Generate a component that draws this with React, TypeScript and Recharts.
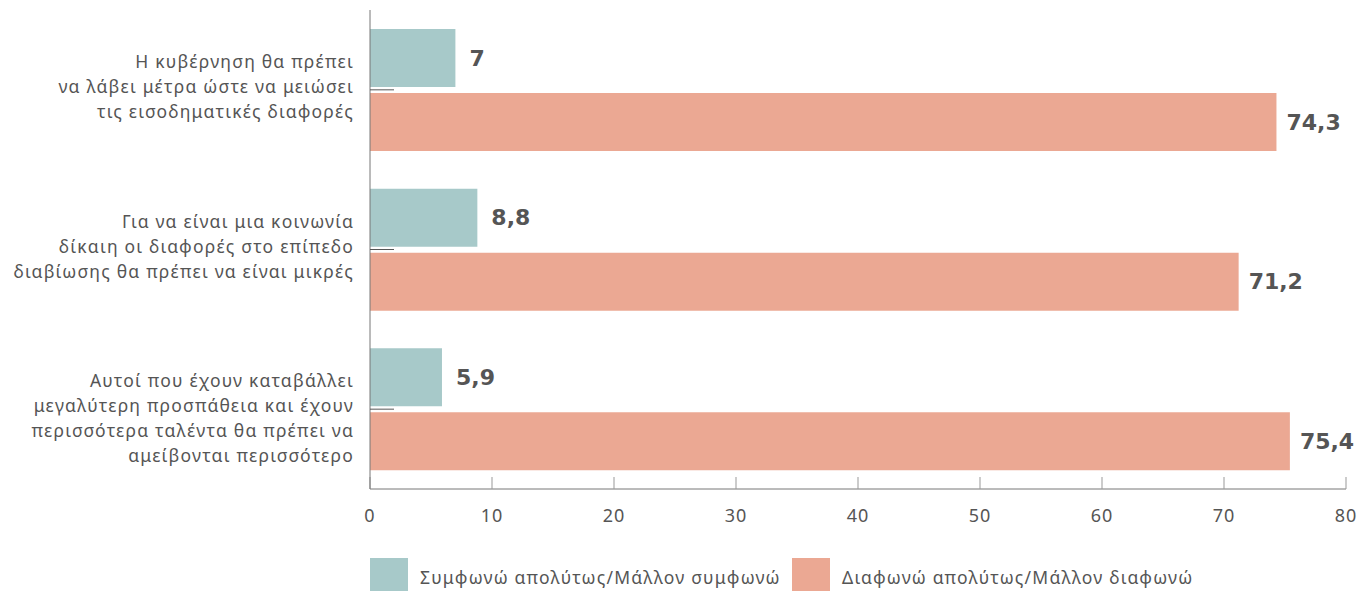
import { BarChart, Bar, XAxis, YAxis, LabelList } from "recharts";

const categories = [
  "Η κυβέρνηση θα πρέπει|να λάβει μέτρα ώστε να μειώσει|τις εισοδηματικές διαφορές",
  "Για να είναι μια κοινωνία|δίκαιη οι διαφορές στο επίπεδο|διαβίωσης θα πρέπει να είναι μικρές",
  "Αυτοί που έχουν καταβάλλει|μεγαλύτερη προσπάθεια και έχουν|περισσότερα ταλέντα θα πρέπει να|αμείβονται περισσότερο",
];
const agree = [7, 8.8, 5.9];
const disagree = [74.3, 71.2, 75.4];
const xTicks = [0, 10, 20, 30, 40, 50, 60, 70, 80];

const seriesNames = ["Συμφωνώ απολύτως/Μάλλον συμφωνώ", "Διαφωνώ απολύτως/Μάλλον διαφωνώ"];
const colors = ["#a7c9c9", "#eba893"];

const data = categories.map((c, i) => ({ name: c, agree: agree[i], disagree: disagree[i] }));

const FONT = "'Noto Sans', sans-serif";
const BOLD_FONT = "'DejaVu Sans', sans-serif";
const TEXT = "#555555";

function CategoryTick(props: any) {
  const { x, y, payload } = props;
  const lines = String(payload.value).split("|");
  return (
    <text
      x={x}
      y={y - 28}
      textAnchor="end"
      fill={TEXT}
      fontSize={17.5}
      letterSpacing={1.2}
      fontFamily={FONT}
    >
      {lines.map((l, i) => (
        <tspan key={i} x={x} dy={i === 0 ? "0.35em" : 25}>
          {l}
        </tspan>
      ))}
    </text>
  );
}

const fmt = (v: any) => String(v).replace(".", ",");

export default function App() {
  return (
    <div style={{ position: "absolute", left: 0, top: 0, width: 1360, height: 591, background: "#fff" }}>
      <BarChart
        width={1360}
        height={591}
        data={data}
        layout="vertical"
        margin={{ top: 10, right: 14, left: 0, bottom: 72 }}
        barCategoryGap={19}
        barGap={6}
      >
        <XAxis
          type="number"
          domain={[0, 80]}
          ticks={xTicks}
          height={30}
          tickSize={-12}
          tickMargin={32}
          axisLine={{ stroke: "#777" }}
          tickLine={{ stroke: "#999" }}
          tick={{ fill: TEXT, fontSize: 18, fontFamily: FONT, letterSpacing: 1 }}
        />
        <YAxis
          type="category"
          dataKey="name"
          width={370}
          tickSize={-24}
          tickMargin={40}
          axisLine={{ stroke: "#777" }}
          tickLine={{ stroke: "#555" }}
          tick={<CategoryTick />}
        />
        <Bar dataKey="agree" fill={colors[0]} isAnimationActive={false}>
          <LabelList
            dataKey="agree"
            position="right"
            offset={14}
            formatter={fmt}
            style={{ fill: TEXT, fontSize: 22, fontWeight: 700, fontFamily: BOLD_FONT }}
          />
        </Bar>
        <Bar dataKey="disagree" fill={colors[1]} isAnimationActive={false}>
          <LabelList
            dataKey="disagree"
            position="right"
            offset={10}
            formatter={fmt}
            style={{ fill: TEXT, fontSize: 22, fontWeight: 700, fontFamily: BOLD_FONT }}
          />
        </Bar>
      </BarChart>
      {seriesNames.map((n, i) => (
        <div
          key={n}
          style={{
            position: "absolute",
            top: 558,
            left: i === 0 ? 370 : 792,
            display: "flex",
            alignItems: "center",
            fontFamily: FONT,
            fontSize: 17.5,
            letterSpacing: 1.2,
            color: TEXT,
          }}
        >
          <div style={{ width: 38, height: 38, background: colors[i], marginRight: 12 }} />
          <span>{n}</span>
        </div>
      ))}
    </div>
  );
}
